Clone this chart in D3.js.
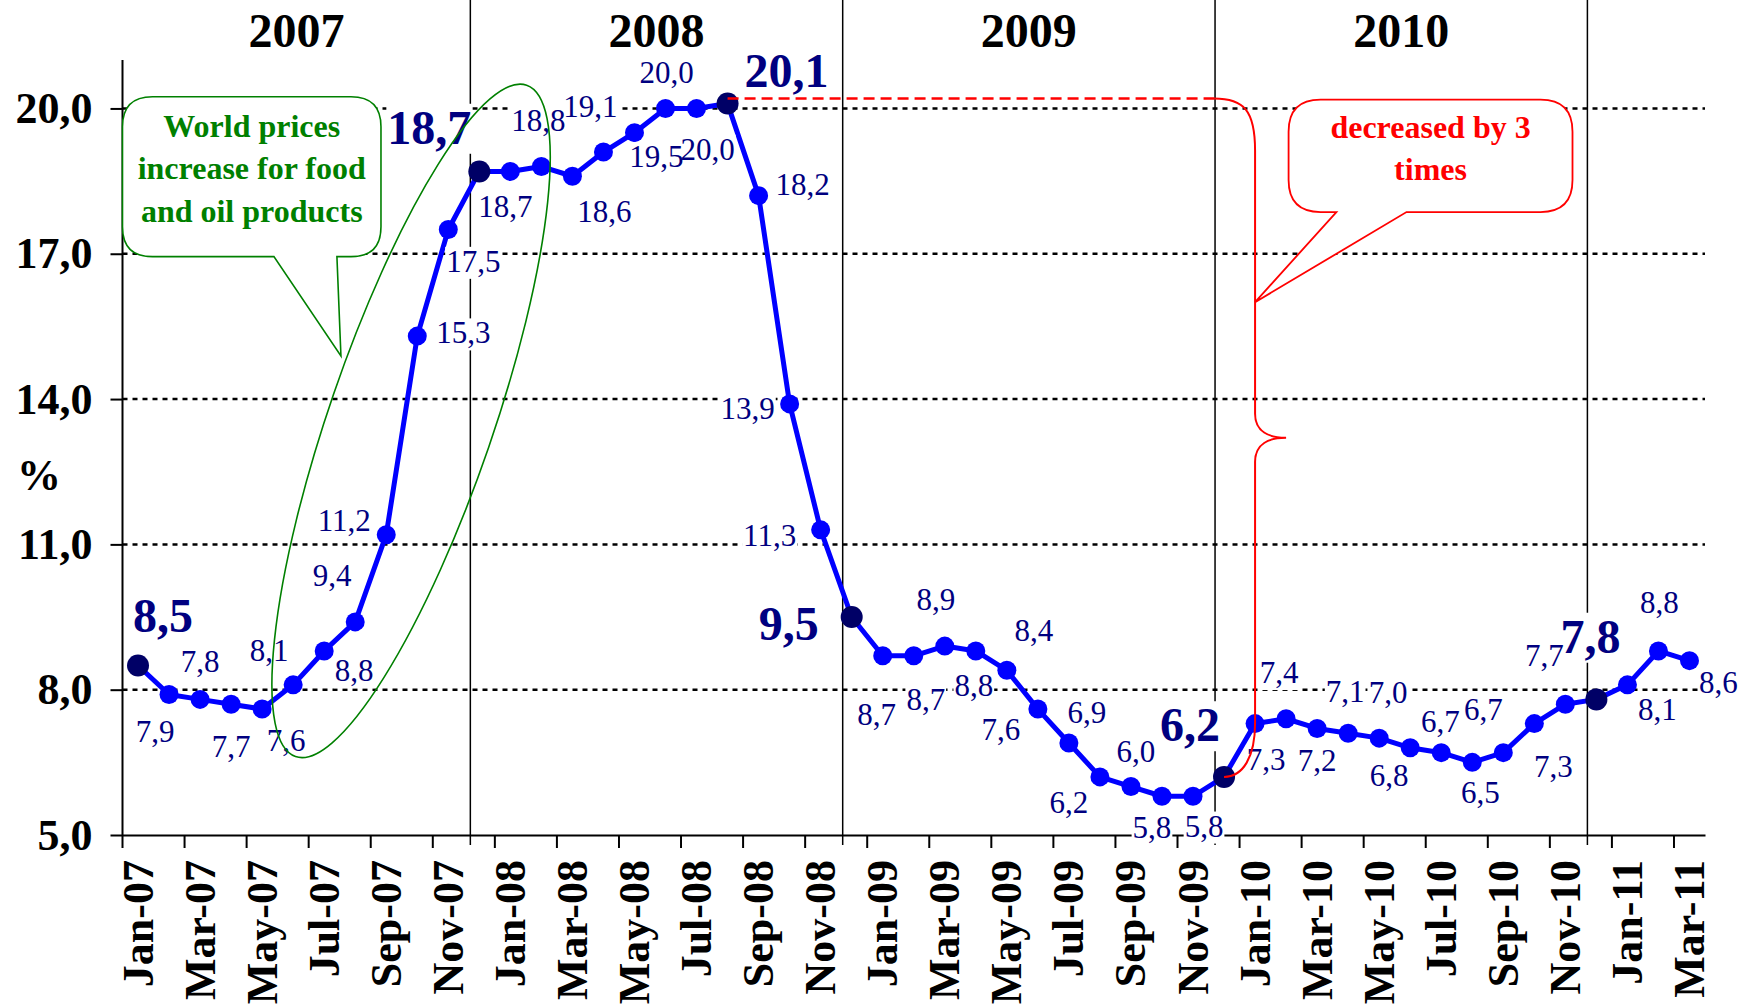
<!DOCTYPE html>
<html>
<head>
<meta charset="utf-8">
<script src="https://cdn.jsdelivr.net/npm/d3@7"></script>
<style>
  html, body { margin: 0; padding: 0; background: #fff; }
  #chart { width: 1753px; height: 1007px; }
  text { font-family: 'Liberation Serif', 'Times New Roman', serif; }
</style>
</head>
<body>
<div id="chart"></div>
<script>
// categories, one per month
const months2007 = ['Jan-07', 'Feb-07', 'Mar-07', 'Apr-07', 'May-07', 'Jun-07', 'Jul-07', 'Aug-07', 'Sep-07', 'Oct-07', 'Nov-07', 'Dec-07'];
const months2008 = ['Jan-08', 'Feb-08', 'Mar-08', 'Apr-08', 'May-08', 'Jun-08', 'Jul-08', 'Aug-08', 'Sep-08', 'Oct-08', 'Nov-08', 'Dec-08'];
const months2009 = ['Jan-09', 'Feb-09', 'Mar-09', 'Apr-09', 'May-09', 'Jun-09', 'Jul-09', 'Aug-09', 'Sep-09', 'Oct-09', 'Nov-09', 'Dec-09'];
const months2010 = ['Jan-10', 'Feb-10', 'Mar-10', 'Apr-10', 'May-10', 'Jun-10', 'Jul-10', 'Aug-10', 'Sep-10', 'Oct-10', 'Nov-10', 'Dec-10'];
const months2011 = ['Jan-11', 'Feb-11', 'Mar-11'];

// inflation, %
const values2007 = [8.5, 7.9, 7.8, 7.7, 7.6, 8.1, 8.8, 9.4, 11.2, 15.3, 17.5, 18.7];
const values2008 = [18.7, 18.8, 18.6, 19.1, 19.5, 20.0, 20.0, 20.1, 18.2, 13.9, 11.3, 9.5];
const values2009 = [8.7, 8.7, 8.9, 8.8, 8.4, 7.6, 6.9, 6.2, 6.0, 5.8, 5.8, 6.2];
const values2010 = [7.3, 7.4, 7.2, 7.1, 7.0, 6.8, 6.7, 6.5, 6.7, 7.3, 7.7, 7.8];
const values2011 = [8.1, 8.8, 8.6];

const yTicks = [5, 8, 11, 14, 17, 20];
const years = ['2007', '2008', '2009', '2010'];
const yearEnds = ['Dec-07', 'Dec-08', 'Dec-09', 'Dec-10'];
const keyMonths = ['Jan-07', 'Dec-07', 'Aug-08', 'Dec-08', 'Dec-09', 'Dec-10'];

const greenNote = ['World prices', 'increase for food', 'and oil products'];
const redNote = ['decreased by 3', 'times'];

// where each data label sits relative to its point (px)
const labelShift = [
  [25, -49], [-14, 38], [0, -37], [0, 43], [24, 33], [-24, -33], [30, 21], [-23, -45], [-42, -13], [46, -2], [25, 33], [-50, -43],
  [-5, 36], [-3, -45], [32, 36], [-13, -44], [22, 25], [1, -35], [11, 42], [59, -32], [44, -10], [-42, 6], [-51, 7], [-63, 8],
  [-6, 60], [12, 45], [-9, -45], [-2, 36], [27, -39], [-37, 22], [18, -29], [-31, 27], [5, -34], [-10, 32], [11, 31], [-34, -51],
  [11, 37], [-7, -45], [0, 33], [-3, -41], [9, -44], [-21, 29], [-1, -30], [8, 31], [-20, -42], [19, 44], [-21, -48], [-6, -62],
  [30, 26], [1, -47], [29, 23]
];

class InflationChart {
  constructor(id, months, values) {
    this.id = id;
    this.data = months.map((m, i) => ({ month: m, value: values[i], i }));
    this.width = 1753;
    this.height = 1007;
    this.margin = { top: 60, right: 48, bottom: 172, left: 122.5 };
    this.fmt = v => d3.format('.1f')(v).replace('.', ',');
    this.navy = '#000080';
    this.init();
  }
  init() {
    this.svg = d3.select(`#${this.id}`).append('svg')
      .attr('width', this.width)
      .attr('height', this.height)
      .style('background', '#fff');
    this.x = d3.scaleBand()
      .domain(this.data.map(d => d.month))
      .range([this.margin.left, this.width - this.margin.right])
      .padding(0);
    this.y = d3.scaleLinear()
      .domain([5, 21])
      .range([this.height - this.margin.bottom, this.margin.top]);
    this.bw = this.x.bandwidth();
    this.cx = m => this.x(m) + this.bw / 2;
    // position from fractional band index and value
    this.at = (i, v) => [this.margin.left + i * this.bw, this.y(v)];
    return this;
  }
  render() {
    this.renderGrid();
    this.renderDividers();
    this.renderAxes();
    this.renderLine();
    this.renderLabels();
    this.renderNotes();
    return this;
  }
  renderGrid() {
    const [x0, x1] = this.x.range();
    this.svg.append('g').selectAll('line')
      .data(yTicks.filter(t => t > 5))
      .join('line')
      .attr('x1', x0).attr('x2', x1)
      .attr('y1', d => this.y(d)).attr('y2', d => this.y(d))
      .attr('stroke', '#000')
      .attr('stroke-width', 2.5)
      .attr('stroke-dasharray', '5,5');
  }
  renderDividers() {
    const g = this.svg.append('g');
    const xs = yearEnds.map(m => this.cx(m) - 0.29 * this.bw);
    g.selectAll('line')
      .data(xs)
      .join('line')
      .attr('x1', d => d).attr('x2', d => d)
      .attr('y1', 0).attr('y2', this.y(5) + 10)
      .attr('stroke', '#000')
      .attr('stroke-width', 1.5);
    // year titles centred in each span
    const edges = [this.x.range()[0], ...xs];
    g.selectAll('text')
      .data(years)
      .join('text')
      .attr('x', (d, i) => (edges[i] + edges[i + 1]) / 2)
      .attr('y', 47)
      .attr('text-anchor', 'middle')
      .style('font-size', '48px')
      .style('font-weight', 'bold')
      .text(d => d);
  }
  renderAxes() {
    const yAxis = d3.axisLeft(this.y)
      .tickValues(yTicks)
      .tickSize(12)
      .tickPadding(18)
      .tickFormat(this.fmt);
    const ya = this.svg.append('g')
      .attr('transform', `translate(${this.margin.left},0)`)
      .call(yAxis);
    ya.select('.domain').attr('d', `M0,${this.y(21)}V${this.y(5)}`).attr('stroke-width', 2);
    ya.selectAll('.tick line').attr('stroke-width', 2);
    ya.selectAll('.tick text')
      .attr('dy', '0.32em')
      .style('font-family', "'Liberation Serif', 'Times New Roman', serif")
      .style('font-size', '44px')
      .style('font-weight', 'bold')
      .attr('fill', '#000');

    this.svg.append('text')
      .attr('x', 39).attr('y', 490)
      .attr('text-anchor', 'middle')
      .style('font-size', '44px')
      .style('font-weight', 'bold')
      .text('%');

    const shown = this.data.filter(d => d.i % 2 === 0).map(d => d.month);
    const xAxis = d3.axisBottom(this.x)
      .tickValues(shown)
      .tickSize(0)
      .tickFormat(d => d);
    const xa = this.svg.append('g')
      .attr('transform', `translate(0,${this.y(5)})`)
      .call(xAxis);
    xa.select('.domain').attr('stroke-width', 2);
    xa.selectAll('.tick text')
      .attr('transform', 'rotate(-90)')
      .attr('x', -25).attr('y', 0).attr('dy', '0.33em')
      .attr('text-anchor', 'end')
      .style('font-family', "'Liberation Serif', 'Times New Roman', serif")
      .style('font-size', '44px')
      .style('font-weight', 'bold')
      .attr('fill', '#000');
    // tick marks sit on the left edge of every other month
    xa.selectAll('.tick line').remove();
    xa.append('g').selectAll('line')
      .data(shown)
      .join('line')
      .attr('x1', d => this.x(d)).attr('x2', d => this.x(d))
      .attr('y1', 0).attr('y2', 13)
      .attr('stroke', '#000')
      .attr('stroke-width', 2);
  }
  renderLine() {
    const line = d3.line()
      .x(d => this.cx(d.month))
      .y(d => this.y(d.value));
    this.svg.append('path')
      .datum(this.data)
      .attr('d', line)
      .attr('fill', 'none')
      .attr('stroke', '#0000ff')
      .attr('stroke-width', 5)
      .attr('stroke-linejoin', 'round');
    this.svg.append('g').selectAll('circle')
      .data(this.data)
      .join('circle')
      .attr('cx', d => this.cx(d.month))
      .attr('cy', d => this.y(d.value))
      .attr('r', d => keyMonths.includes(d.month) ? 11 : 9.5)
      .attr('fill', d => keyMonths.includes(d.month) ? '#000066' : '#0000ff');
  }
  renderLabels() {
    const boxes = this.svg.append('g');
    const texts = this.svg.append('g');
    const key = d => keyMonths.includes(d.month);
    texts.selectAll('text')
      .data(this.data)
      .join('text')
      .attr('x', d => this.cx(d.month) + labelShift[d.i][0])
      .attr('y', d => this.y(d.value) + labelShift[d.i][1])
      .attr('dy', d => key(d) ? '0.32em' : '0.3em')
      .attr('text-anchor', 'middle')
      .attr('fill', this.navy)
      .style('font-size', d => key(d) ? '48px' : '31px')
      .style('font-weight', d => key(d) ? 'bold' : 'normal')
      .text(d => this.fmt(d.value))
      .each(function () {
        const b = this.getBBox();
        boxes.append('rect')
          .attr('x', b.x - 1).attr('y', b.y + 3)
          .attr('width', b.width + 2).attr('height', b.height - 3)
          .attr('fill', '#fff');
      });
  }
  callout(x0, y0, x1, y1, r, ta, tb, tip) {
    const p = d3.path();
    p.moveTo(x0 + r, y0);
    p.lineTo(x1 - r, y0);
    p.quadraticCurveTo(x1, y0, x1, y0 + r);
    p.lineTo(x1, y1 - r);
    p.quadraticCurveTo(x1, y1, x1 - r, y1);
    p.lineTo(tb, y1);
    p.lineTo(tip[0], tip[1]);
    p.lineTo(ta, y1);
    p.lineTo(x0 + r, y1);
    p.quadraticCurveTo(x0, y1, x0, y1 - r);
    p.lineTo(x0, y0 + r);
    p.quadraticCurveTo(x0, y0, x0 + r, y0);
    p.closePath();
    return p.toString();
  }
  renderNotes() {
    const g = this.svg.append('g');
    const at = this.at;

    // green ellipse round the 2007 price jump
    const [ex, ey] = at(9.3, 13.55);
    g.append('ellipse')
      .attr('cx', 0).attr('cy', 0)
      .attr('rx', 82).attr('ry', 355)
      .attr('transform', `translate(${ex},${ey}) rotate(19)`)
      .attr('fill', 'none')
      .attr('stroke', '#008000')
      .attr('stroke-width', 1.6);

    // green callout
    const [gx0, gy0] = at(0, 20.24);
    const [gx1, gy1] = at(8.33, 16.94);
    g.append('path')
      .attr('d', this.callout(gx0, gy0, gx1, gy1, 30, at(4.88, 0)[0], at(6.91, 0)[0], at(7.04, 14.89)))
      .attr('fill', '#fff')
      .attr('stroke', '#008000')
      .attr('stroke-width', 1.6);
    g.append('g').selectAll('text')
      .data(greenNote)
      .join('text')
      .attr('x', (gx0 + gx1) / 2)
      .attr('y', (d, i) => gy0 + 40 + i * 42.5)
      .attr('text-anchor', 'middle')
      .attr('fill', '#008000')
      .style('font-size', '32px')
      .style('font-weight', 'bold')
      .text(d => d);

    // red brace from the peak down to the trough
    const yTop = this.y(20.1) - 5;
    const yBot = this.y(6.2);
    const xTop = this.cx('Dec-09') - 10;
    const xBot = this.cx('Dec-09');
    const xV = this.cx('Jan-10');
    const xTip = this.cx('Feb-10');
    const yMid = (yTop + yBot) / 2;
    g.append('line')
      .attr('x1', this.cx('Aug-08')).attr('x2', xTop)
      .attr('y1', yTop).attr('y2', yTop)
      .attr('stroke', '#ff0000')
      .attr('stroke-width', 2.5)
      .attr('stroke-dasharray', '11,6');
    const b = d3.path();
    b.moveTo(xTop, yTop);
    b.bezierCurveTo(xTop + 30, yTop, xV, yTop + 12, xV, yTop + 52);
    b.lineTo(xV, yMid - 24);
    b.bezierCurveTo(xV, yMid - 6, xV + 14, yMid, xTip, yMid);
    b.bezierCurveTo(xV + 14, yMid, xV, yMid + 6, xV, yMid + 24);
    b.lineTo(xV, yBot - 54);
    b.bezierCurveTo(xV, yBot - 20, xV - 12, yBot, xBot, yBot);
    g.append('path')
      .attr('d', b.toString())
      .attr('fill', 'none')
      .attr('stroke', '#ff0000')
      .attr('stroke-width', 2);

    // red callout
    const [rx0, ry0] = at(37.58, 20.18);
    const [rx1, ry1] = at(46.73, 17.86);
    g.append('path')
      .attr('d', this.callout(rx0, ry0, rx1, ry1, 32, at(39.12, 0)[0], at(41.38, 0)[0], at(36.5, 16.0)))
      .attr('fill', '#fff')
      .attr('stroke', '#ff0000')
      .attr('stroke-width', 1.8);
    g.append('g').selectAll('text')
      .data(redNote)
      .join('text')
      .attr('x', (rx0 + rx1) / 2)
      .attr('y', (d, i) => ry0 + 38 + i * 42)
      .attr('text-anchor', 'middle')
      .attr('fill', '#ff0000')
      .style('font-size', '32px')
      .style('font-weight', 'bold')
      .text(d => d);
  }
}

const months = [...months2007, ...months2008, ...months2009, ...months2010, ...months2011];
const values = [...values2007, ...values2008, ...values2009, ...values2010, ...values2011];
new InflationChart('chart', months, values).render();
</script>
</body>
</html>
